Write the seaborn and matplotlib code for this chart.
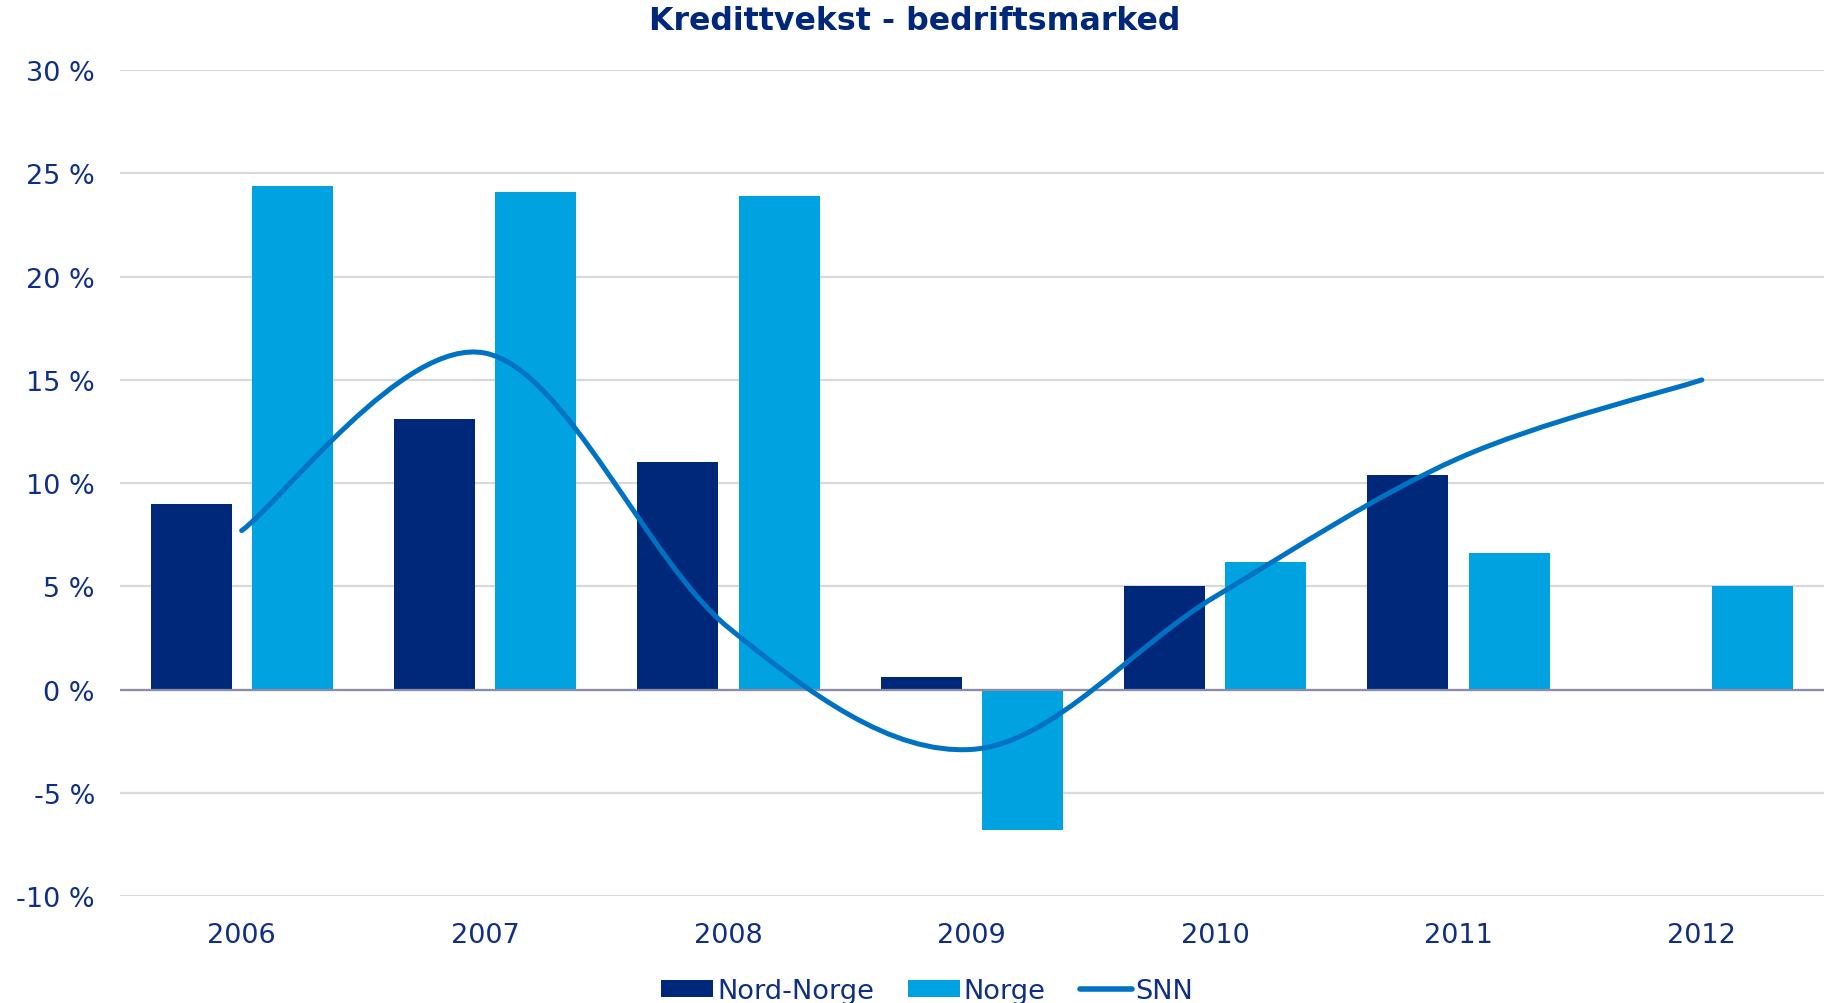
import numpy as np
import pandas as pd
import matplotlib
matplotlib.use("Agg")
import matplotlib.pyplot as plt
import seaborn as sns
from matplotlib.path import Path
from matplotlib.patches import PathPatch, Patch
from matplotlib.lines import Line2D

# data (percent)
years = ["2006", "2007", "2008", "2009", "2010", "2011", "2012"]
nord_norge = [9.0, 13.1, 11.0, 0.6, 5.0, 10.4, np.nan]
norge = [24.4, 24.1, 23.9, -6.8, 6.2, 6.6, 5.0]
snn = [7.7, 16.3, 3.0, -2.9, 4.5, 11.2, 15.0]

navy = "#00287A"
light = "#00A2E0"
line_col = "#0072C3"
text_col = "#0E2F85"

sns.set_theme(style="white")
plt.rcParams['font.family'] = ['DejaVu Sans']

df = pd.DataFrame({
    "year": years * 2,
    "serie": ["Nord-Norge"] * len(years) + ["Norge"] * len(years),
    "value": nord_norge + norge,
}).dropna()

fig = plt.figure(figsize=(18.29, 10.04), dpi=100)
ax = fig.add_axes([0.0656, 0.1066, 0.9314, 0.8224])

ax.yaxis.grid(True, color="#D9D9D9", linewidth=1.6)
ax.set_axisbelow(True)
sns.barplot(data=df, x="year", y="value", hue="serie", order=years,
            hue_order=["Nord-Norge", "Norge"], palette=[navy, light],
            width=0.832, gap=0.2, linewidth=0, saturation=1, legend=False, ax=ax)

# smoothed line (cubic bezier through the points, like Excel's smoothing)
xs = np.arange(len(snn), dtype=float)
ys = np.array(snn, dtype=float)
px = np.concatenate([[xs[0]], xs, [xs[-1]]])
py = np.concatenate([[ys[0]], ys, [ys[-1]]])
verts = [(xs[0], ys[0])]
codes = [Path.MOVETO]
for i in range(len(xs) - 1):
    j = i + 1
    c1 = (px[j] + (px[j + 1] - px[j - 1]) / 6, py[j] + (py[j + 1] - py[j - 1]) / 6)
    c2 = (px[j + 1] - (px[j + 2] - px[j]) / 6, py[j + 1] - (py[j + 2] - py[j]) / 6)
    verts += [c1, c2, (xs[j], ys[j])]
    codes += [Path.CURVE4] * 3
ax.add_patch(PathPatch(Path(verts, codes), fill=False, edgecolor=line_col,
                       linewidth=3.6, capstyle="round", zorder=5))

ax.axhline(0, color="#8C8CAA", linewidth=1.6, zorder=4)
ax.set_xlim(-0.5, 6.5)
ax.set_ylim(-10, 30)
ax.set_yticks(range(-10, 31, 5))
ax.set_yticklabels([f"{v} %" for v in range(-10, 31, 5)])
ax.tick_params(axis="y", length=0, pad=18, labelsize=19.5, labelcolor=text_col)
ax.tick_params(axis="x", length=0, pad=19, labelsize=19.5, labelcolor=text_col)
ax.set_xlabel("")
ax.set_ylabel("")
for s in ax.spines.values():
    s.set_visible(False)

fig.text(0.5, 0.979, "Kredittvekst - bedriftsmarked", ha="center", va="center",
         fontsize=22.8, fontweight="bold", color=navy)

handles = [Patch(facecolor=navy, edgecolor="none"),
           Patch(facecolor=light, edgecolor="none"),
           Line2D([0], [0], color=line_col, linewidth=4, solid_capstyle="round")]
leg = fig.legend(handles, ["Nord-Norge", "Norge", "SNN"], loc="center",
                 bbox_to_anchor=(0.507, 0.012), ncol=3, frameon=False,
                 handlelength=1.9, handleheight=0.6, handletextpad=0.15,
                 columnspacing=1.25,
                 prop={"family": ["Liberation Sans Narrow", "DejaVu Sans"], "size": 19.6})
for t in leg.get_texts():
    t.set_color(text_col)

fig.savefig("out.png", dpi=100)
